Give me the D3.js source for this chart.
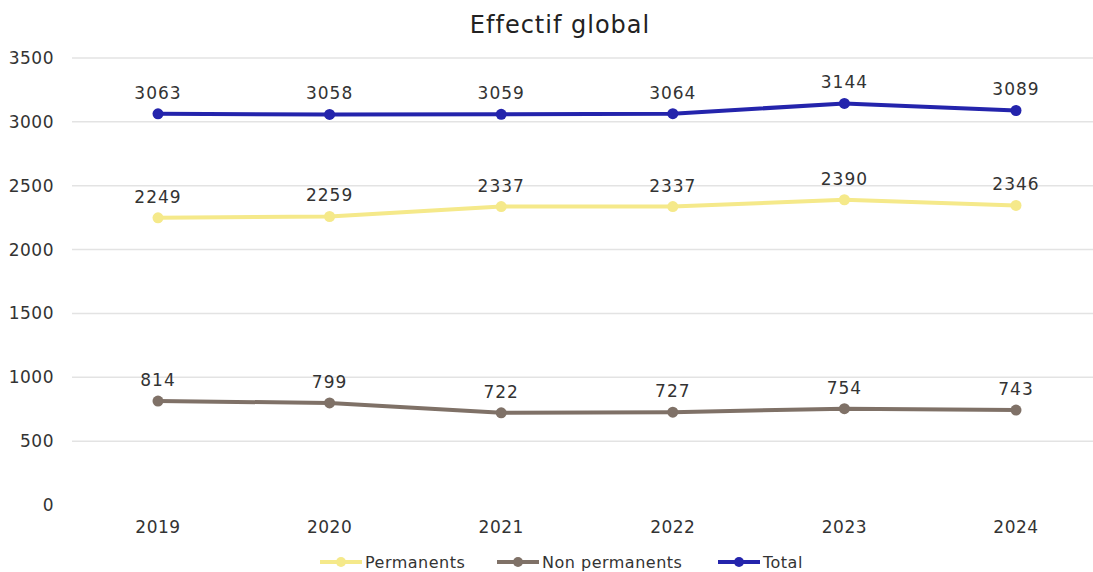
<!DOCTYPE html>
<html><head><meta charset="utf-8">
<script src="https://cdn.jsdelivr.net/npm/d3@7"></script>
<style>body{margin:0;background:#fff}svg{display:block}text{font-family:"DejaVu Sans","Noto Sans",sans-serif;fill:#333}</style>
</head><body><svg id="c" width="1093" height="572"></svg>
<script>
const categories = ["2019","2020","2021","2022","2023","2024"];
const permanents = [2249,2259,2337,2337,2390,2346];
const nonPermanents = [814,799,722,727,754,743];
const total = [3063,3058,3059,3064,3144,3089];
const yTicks = [0,500,1000,1500,2000,2500,3000,3500];
const seriesNames = ["Permanents","Non permanents","Total"];
const colors = ["#f5e98a","#7f7167","#2424ac"];

const svg = d3.select("#c");
const x = d3.scalePoint().domain(categories).range([158,1016]);
const y = d3.scaleLinear().domain([0,3500]).range([505,58]);

svg.append("text").attr("x",560).attr("y",33).attr("text-anchor","middle")
  .style("font-size","24px").style("letter-spacing","1px").style("fill","#222").text("Effectif global");

const grid = svg.append("g");
yTicks.forEach(t=>{
  if(t>0) grid.append("line").attr("x1",72).attr("x2",1093).attr("y1",y(t)).attr("y2",y(t))
    .attr("stroke","#e3e3e3").attr("stroke-width",1.5);
  grid.append("text").attr("x",54).attr("y",y(t)+6).attr("text-anchor","end")
    .style("font-size","17px").style("letter-spacing","0.5px").text(t);
});
categories.forEach(c=>{
  svg.append("text").attr("x",x(c)).attr("y",533).attr("text-anchor","middle")
    .style("font-size","17px").style("letter-spacing","0.5px").text(c);
});

const data = [permanents, nonPermanents, total];
const line = d3.line().x((d,i)=>x(categories[i])).y(d=>y(d));
data.forEach((vals,k)=>{
  const g = svg.append("g");
  g.append("path").datum(vals).attr("d",line).attr("fill","none")
    .attr("stroke",colors[k]).attr("stroke-width",4).attr("stroke-linejoin","round");
  g.selectAll("circle").data(vals).join("circle")
    .attr("cx",(d,i)=>x(categories[i])).attr("cy",d=>y(d)).attr("r",5.5).attr("fill",colors[k]);
  g.selectAll("text.l").data(vals).join("text").attr("class","l")
    .attr("x",(d,i)=>x(categories[i])).attr("y",d=>y(d)-15).attr("text-anchor","middle")
    .style("font-size","17px").style("letter-spacing","1px").text(d=>d);
});

const legX = [320,497,718];
seriesNames.forEach((n,k)=>{
  const g = svg.append("g");
  g.append("line").attr("x1",legX[k]).attr("x2",legX[k]+42).attr("y1",562).attr("y2",562)
    .attr("stroke",colors[k]).attr("stroke-width",4);
  g.append("circle").attr("cx",legX[k]+21).attr("cy",562).attr("r",5).attr("fill",colors[k]);
  g.append("text").attr("x",legX[k]+45).attr("y",568).style("font-size","16px").style("letter-spacing","0.5px").text(n);
});
</script></body></html>
